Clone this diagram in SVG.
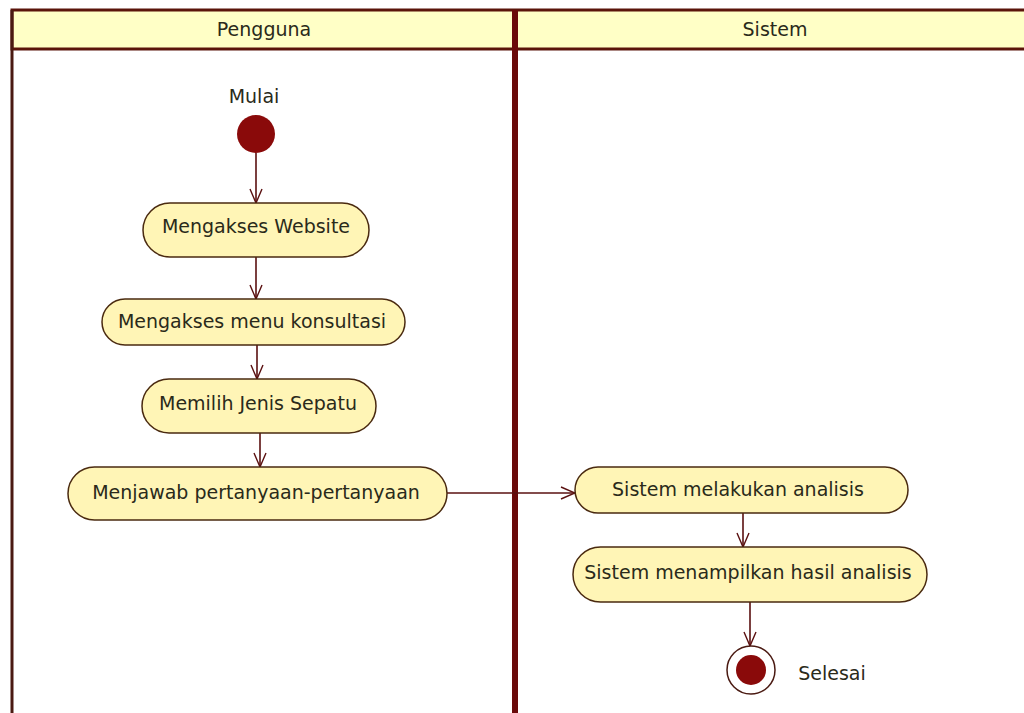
<svg xmlns="http://www.w3.org/2000/svg" width="1024" height="713" viewBox="0 0 1024 713">
  <defs>
    <style>
      .lane-head { fill: #ffffc6; stroke: #5a140a; stroke-width: 3; }
      .lane-edge { stroke: #4a1a12; stroke-width: 3; fill: none; }
      .lane-split { stroke: #6a0a0a; stroke-width: 6; fill: none; }
      .action rect { fill: #fff5b6; stroke: #4a2a10; stroke-width: 1.5; }
      .label { font-family: "DejaVu Sans", Verdana, sans-serif; font-size: 19px; fill: #2a2a1a; text-anchor: middle; }
      .edge { stroke: #5a1010; stroke-width: 1.6; fill: none; marker-end: url(#open-arrow); }
      .start { fill: #8a0a0a; }
      .end-ring { fill: #ffffff; stroke: #4a1a12; stroke-width: 1.5; }
    </style>
    <marker id="open-arrow" viewBox="0 0 16 16" refX="15" refY="8" markerWidth="16" markerHeight="16" markerUnits="userSpaceOnUse" orient="auto">
      <path d="M1,2 L15,8 L1,14" fill="none" stroke="#5a1010" stroke-width="1.4"/>
    </marker>
  </defs>

  <rect width="1024" height="713" fill="#ffffff"/>

  <!-- swimlanes -->
  <g id="lanes">
    <rect class="lane-head" x="12" y="10" width="1020" height="39"/>
    <line class="lane-edge" x1="12" y1="10" x2="12" y2="713"/>
    <line class="lane-split" x1="515" y1="10" x2="515" y2="713"/>
    <text class="label" x="264" y="36">Pengguna</text>
    <text class="label" x="775" y="36">Sistem</text>
  </g>

  <!-- transitions -->
  <g id="connectors">
    <line class="edge" x1="256" y1="153" x2="256" y2="203"/>
    <line class="edge" x1="256" y1="257" x2="256" y2="299"/>
    <line class="edge" x1="257" y1="345" x2="257" y2="379"/>
    <line class="edge" x1="260" y1="433" x2="260" y2="467"/>
    <line class="edge" x1="447" y1="493" x2="575" y2="493"/>
    <line class="edge" x1="743" y1="513" x2="743" y2="547"/>
    <line class="edge" x1="750" y1="602" x2="750" y2="646"/>
  </g>

  <g id="start">
    <text class="label" x="254" y="103">Mulai</text>
    <circle class="start" cx="256" cy="134" r="19"/>
  </g>

  <g id="act-website" class="action">
    <rect x="143" y="203" width="226" height="54" rx="27"/>
    <text class="label" x="256" y="233">Mengakses Website</text>
  </g>

  <g id="act-menu" class="action">
    <rect x="102" y="299" width="303" height="46" rx="23"/>
    <text class="label" x="252" y="328">Mengakses menu konsultasi</text>
  </g>

  <g id="act-sepatu" class="action">
    <rect x="142" y="379" width="234" height="54" rx="27"/>
    <text class="label" x="258" y="410">Memilih Jenis Sepatu</text>
  </g>

  <g id="act-jawab" class="action">
    <rect x="68" y="467" width="379" height="53" rx="26.5"/>
    <text class="label" x="256" y="499">Menjawab pertanyaan-pertanyaan</text>
  </g>

  <g id="act-analisis" class="action">
    <rect x="575" y="467" width="333" height="46" rx="23"/>
    <text class="label" x="738" y="496">Sistem melakukan analisis</text>
  </g>

  <g id="act-hasil" class="action">
    <rect x="573" y="547" width="354" height="55" rx="27.5"/>
    <text class="label" x="748" y="579">Sistem menampilkan hasil analisis</text>
  </g>

  <g id="end">
    <circle class="end-ring" cx="751" cy="670" r="24"/>
    <circle class="start" cx="751" cy="670" r="15"/>
    <text class="label" x="832" y="680">Selesai</text>
  </g>
</svg>
